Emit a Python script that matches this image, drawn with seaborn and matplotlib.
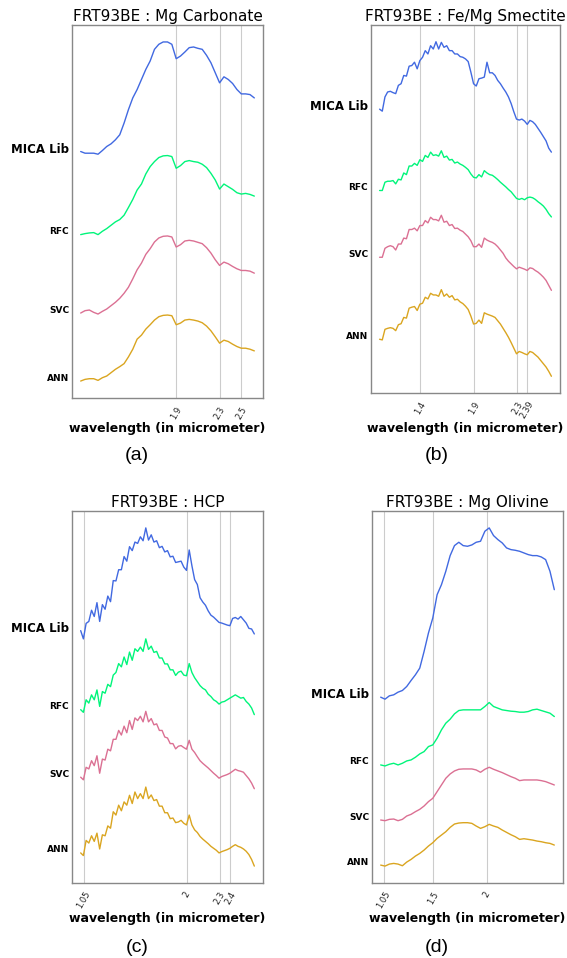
import numpy as np
import pandas as pd
import matplotlib
matplotlib.use("Agg")
import matplotlib.pyplot as plt
import seaborn as sns

# wavelength sampling (micrometer) used for the spectra below
wl_coarse = np.linspace(1.02, 2.62, 41)
wl_fine = np.linspace(1.02, 2.62, 65)

models = ['MICA Lib', 'RFC', 'SVC', 'ANN']
colors = ['#4169e1', '#00f57a', '#db7093', '#daa520']

# stacked spectra (offset reflectance, x1000)
# (a) Mg Carbonate
carb_mica = [740, 735, 735, 735, 732, 743, 755, 763, 775, 790, 825, 865, 900, 925, 955, 985, 1010, 1045, 1060, 1067,
             1067, 1060, 1017, 1025, 1037, 1050, 1052, 1048, 1045, 1027, 1005, 975, 945, 963, 955, 943, 925, 912, 912, 910, 900]
carb_rfc = [492, 495, 497, 498, 492, 502, 510, 520, 530, 537, 550, 573, 597, 625, 643, 673, 695, 710, 722, 727,
            728, 725, 690, 698, 710, 713, 710, 708, 702, 692, 675, 655, 628, 643, 635, 627, 617, 613, 615, 612, 607]
carb_svc = [258, 265, 267, 260, 255, 263, 270, 280, 290, 302, 317, 335, 360, 387, 407, 433, 450, 470, 482, 487,
            488, 485, 455, 462, 473, 475, 473, 469, 465, 453, 437, 417, 400, 410, 405, 397, 390, 385, 385, 383, 377]
carb_ann = [55, 60, 62, 62, 57, 65, 70, 80, 90, 98, 107, 127, 150, 180, 192, 210, 223, 237, 247, 251,
            252, 250, 223, 228, 237, 239, 237, 234, 229, 219, 205, 187, 168, 177, 173, 165, 158, 153, 153, 150, 145]

# (b) Fe/Mg Smectite
smec_mica = [858, 852, 895, 910, 912, 908, 905, 930, 935, 960, 958, 988, 990, 1000, 980, 1005, 1015, 1035, 1025, 1050,
             1040, 1062, 1040, 1060, 1045, 1050, 1035, 1035, 1025, 1025, 1017, 1015, 1010, 1002, 970, 935, 928, 950, 952, 955,
             1000, 968, 968, 960, 945, 935, 922, 910, 895, 875, 850, 828, 825, 828, 822, 812, 824, 820, 812, 800,
             788, 775, 762, 740, 728]
smec_rfc = [612, 612, 637, 640, 640, 642, 632, 646, 644, 665, 660, 686, 686, 694, 688, 705, 700, 718, 712, 728,
            718, 720, 716, 732, 712, 716, 704, 706, 695, 698, 692, 688, 682, 675, 662, 652, 650, 660, 653, 672,
            665, 660, 658, 652, 645, 637, 630, 623, 615, 608, 598, 588, 585, 588, 584, 590, 592, 590, 585, 578,
            572, 565, 555, 542, 532]
smec_svc = [410, 410, 437, 442, 445, 442, 432, 450, 450, 468, 466, 494, 494, 498, 490, 506, 506, 521, 514, 531,
            524, 524, 520, 537, 516, 519, 506, 509, 497, 498, 492, 488, 480, 472, 460, 442, 442, 450, 440, 468,
            462, 458, 455, 450, 442, 432, 422, 408, 398, 390, 382, 375, 380, 377, 374, 370, 378, 376, 370, 365,
            358, 350, 340, 325, 310]
smec_ann = [162, 160, 192, 195, 197, 195, 188, 206, 209, 228, 226, 256, 259, 261, 249, 268, 271, 289, 284, 301,
            296, 296, 292, 312, 292, 299, 289, 294, 281, 283, 275, 270, 262, 252, 232, 208, 210, 220, 210, 242,
            238, 235, 232, 228, 218, 208, 195, 182, 168, 152, 135, 118, 125, 122, 118, 115, 125, 122, 115, 108,
            98, 88, 78, 65, 50]

# (c) HCP
hcp_mica = [765, 740, 787, 793, 827, 808, 850, 793, 844, 830, 870, 853, 917, 916, 950, 950, 990, 976, 1020, 1008,
            1034, 1030, 1050, 1038, 1077, 1040, 1056, 1034, 1038, 1017, 1021, 1004, 1008, 989, 991, 972, 974, 976, 958, 948,
            1010, 962, 920, 905, 865, 852, 842, 825, 812, 806, 798, 790, 788, 785, 782, 780, 802, 805, 800, 808,
            798, 788, 772, 770, 755]
hcp_rfc = [525, 517, 555, 545, 570, 555, 585, 535, 580, 575, 602, 595, 630, 638, 665, 655, 685, 662, 700, 675,
           710, 702, 715, 702, 740, 708, 718, 699, 702, 682, 682, 664, 664, 646, 646, 629, 639, 642, 630, 628,
           665, 638, 622, 610, 598, 590, 585, 572, 565, 555, 550, 542, 548, 550, 555, 560, 565, 570, 565, 560,
           562, 550, 542, 530, 510]
hcp_svc = [320, 312, 350, 345, 370, 355, 385, 332, 375, 372, 405, 400, 435, 435, 462, 448, 475, 455, 492, 465,
           500, 492, 505, 488, 520, 488, 498, 479, 482, 462, 462, 442, 439, 422, 422, 406, 414, 416, 410, 405,
           432, 405, 395, 382, 370, 362, 355, 348, 340, 332, 325, 317, 322, 325, 328, 332, 338, 344, 340, 338,
           335, 325, 315, 302, 285]
hcp_ann = [90, 82, 128, 120, 142, 125, 150, 102, 145, 142, 172, 165, 215, 205, 235, 218, 245, 235, 265, 240,
           275, 255, 270, 255, 290, 255, 266, 249, 252, 232, 232, 212, 212, 194, 196, 182, 184, 189, 180, 175,
           205, 175, 160, 152, 140, 132, 125, 118, 110, 104, 98, 90, 94, 97, 100, 104, 110, 115, 110, 107,
           102, 95, 85, 70, 50]

# (d) Mg Olivine
oliv_mica = [558, 552, 562, 565, 573, 578, 590, 608, 625, 645, 695, 750, 795, 865, 895, 935, 982, 1012, 1022, 1012,
             1010, 1014, 1022, 1025, 1055, 1065, 1042, 1030, 1020, 1005, 1000, 998, 995, 990, 985, 982, 982, 978, 970, 935, 880]
oliv_rfc = [355, 352, 357, 360, 355, 360, 367, 370, 378, 388, 395, 410, 415, 435, 460, 480, 492, 508, 518, 520,
            520, 520, 520, 520, 530, 542, 530, 525, 520, 518, 516, 515, 513, 513, 515, 520, 522, 518, 514, 510, 500]
oliv_svc = [190, 188, 192, 193, 188, 192, 202, 207, 215, 222, 232, 245, 255, 275, 295, 315, 328, 337, 342, 343,
            343, 343, 340, 333, 342, 348, 342, 337, 332, 326, 320, 315, 308, 310, 310, 310, 310, 308, 305, 300, 295]
oliv_ann = [55, 52, 58, 60, 58, 53, 64, 72, 82, 90, 100, 112, 122, 135, 145, 155, 168, 178, 181, 182,
            182, 180, 172, 165, 170, 177, 172, 168, 160, 153, 146, 140, 132, 134, 132, 130, 127, 125, 122, 120, 115]

titles = ['FRT93BE : Mg Carbonate', 'FRT93BE : Fe/Mg Smectite', 'FRT93BE : HCP', 'FRT93BE : Mg Olivine']
xticks = [[1.9, 2.3, 2.5], [1.4, 1.9, 2.3, 2.39], [1.05, 2.0, 2.3, 2.4], [1.05, 1.5, 2.0]]
xticklabels = [['1.9', '2.3', '2.5'], ['1.4', '1.9', '2.3', '2.39'], ['1.05', '2', '2.3', '2.4'], ['1.05', '1.5', '2']]
captions = ['(a)', '(b)', '(c)', '(d)']

panels = [
    (wl_coarse, [carb_mica, carb_rfc, carb_svc, carb_ann]),
    (wl_fine, [smec_mica, smec_rfc, smec_svc, smec_ann]),
    (wl_fine, [hcp_mica, hcp_rfc, hcp_svc, hcp_ann]),
    (wl_coarse, [oliv_mica, oliv_rfc, oliv_svc, oliv_ann]),
]

sns.set_style('white')
plt.rcParams['font.family'] = ['DejaVu Sans']
plt.rcParams['text.color'] = 'black'
plt.rcParams['xtick.color'] = 'black'
plt.rcParams['ytick.color'] = 'black'
plt.rcParams['axes.labelcolor'] = 'black'

W, H = 567, 958
fig = plt.figure(figsize=(W / 100, H / 100), dpi=100)

# axes boxes in pixels: left, top, right, bottom
boxes = [(72, 25, 263, 398), (371, 25, 560, 393), (72, 511, 263, 883), (372, 511, 563, 883)]
cap_pos = [(137, 455), (437, 455), (137, 947), (437, 947)]
label_lift = 12  # names sit a little above the start of each spectrum

for i, (wl, curves) in enumerate(panels):
    l, t, r, b = boxes[i]
    ax = fig.add_axes([l / W, 1 - b / H, (r - l) / W, (b - t) / H])
    df = pd.DataFrame({
        'wavelength': np.tile(wl, len(models)),
        'value': np.concatenate(curves),
        'model': np.repeat(models, len(wl)),
    })
    sns.lineplot(data=df, x='wavelength', y='value', hue='model', hue_order=models,
                 palette=colors, legend=False, ax=ax, linewidth=1.0)

    ax.set_xticks(xticks[i])
    ax.set_xticklabels(xticklabels[i], rotation=60, fontsize=6, color='#222222')
    ax.set_yticks([c[0] + label_lift for c in curves])
    ax.set_yticklabels(models, fontweight='bold')
    for lab, fs in zip(ax.get_yticklabels(), [8.5, 6.5, 6.5, 6.5]):
        lab.set_fontsize(fs)
    ax.tick_params(axis='both', length=0)
    ax.tick_params(axis='y', pad=2)
    ax.tick_params(axis='x', pad=5)

    ax.set_xlabel('wavelength (in micrometer)', fontsize=9, fontweight='bold', labelpad=1)
    ax.set_ylabel('')
    ax.set_title(titles[i], fontsize=11, pad=3)
    ax.grid(axis='x', color='#cccccc', linewidth=0.8)
    ax.grid(axis='y', visible=False)
    for s in ax.spines.values():
        s.set_color('#888888')
        s.set_linewidth(1.0)

    fig.text(cap_pos[i][0] / W, 1 - cap_pos[i][1] / H, captions[i], fontsize=14,
             family='Liberation Sans', ha='center', va='center')

plt.savefig('out.png', dpi=100)
